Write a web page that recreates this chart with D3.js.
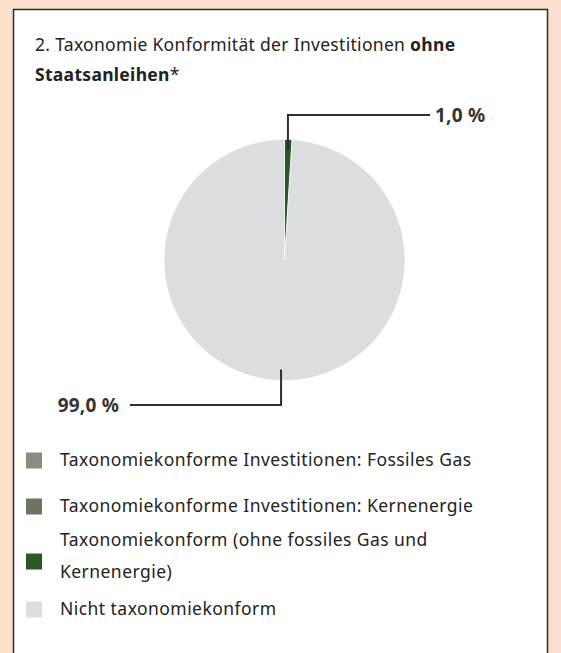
<!DOCTYPE html>
<html><head><meta charset="utf-8">
<script src="https://cdn.jsdelivr.net/npm/d3@7"></script>
<style>html,body{margin:0;padding:0;background:#fbe1cd;}svg{display:block;}</style>
</head><body>
<script>
const categories = ["Taxonomiekonforme Investitionen: Fossiles Gas","Taxonomiekonforme Investitionen: Kernenergie","Taxonomiekonform (ohne fossiles Gas und Kernenergie)","Nicht taxonomiekonform"];
const legendLines = [["Taxonomiekonforme Investitionen: Fossiles Gas"],["Taxonomiekonforme Investitionen: Kernenergie"],["Taxonomiekonform (ohne fossiles Gas und","Kernenergie)"],["Nicht taxonomiekonform"]];
const values = [0, 0, 1.0, 99.0];
const labels = ["", "", "1,0 %", "99,0 %"];
const colors = ["#8b8c7d", "#6b7561", "#2c5726", "#dcdddf"];

const W = 561, H = 653;
const font = "'Noto Sans', Roboto, sans-serif";
const svg = d3.select("body").append("svg").attr("width", W).attr("height", H);
svg.append("rect").attr("x",0).attr("y",0).attr("width",W).attr("height",H).attr("fill","#fbe1cd");
svg.append("rect").attr("x",13.5).attr("y",9.5).attr("width",534).attr("height",H+10)
  .attr("fill","#fff").attr("stroke","#2b2b2b").attr("stroke-width",1.5);

const title = svg.append("text").attr("font-family",font).attr("font-size",17.5)
  .attr("letter-spacing",0.3).attr("fill","#222");
const t1 = title.append("tspan").attr("x",35).attr("y",51);
t1.append("tspan").text("2. Taxonomie Konformität der Investitionen ");
t1.append("tspan").attr("font-weight","bold").text("ohne");
const l2 = title.append("tspan").attr("x",35).attr("y",81);
l2.append("tspan").attr("font-weight","bold").text("Staatsanleihen");
l2.append("tspan").text("*");

const cx = 284.5, cy = 260, r = 120.5;
const pie = d3.pie().sort(null).value(d => d)(values);
const arc = d3.arc().innerRadius(0).outerRadius(r);
const g = svg.append("g").attr("transform",`translate(${cx},${cy})`);
g.selectAll("path").data(pie).join("path")
  .attr("d", arc).attr("fill",(d,i)=>colors[i])
  .attr("stroke","#fff").attr("stroke-width",d=>d.value>0?0.6:0);

// leader lines
pie.forEach((d,i) => {
  if (!d.value) return;
  const a = (d.startAngle + d.endAngle)/2;
  const x0 = Math.sin(a)*r*0.91, y0 = -Math.cos(a)*r*0.91;
  const top = y0 < 0;
  const y1 = top ? -145 : 145;
  const x2 = top ? 430 - cx : 130 - cx;
  g.append("path").attr("d",`M${x0},${y0}V${y1}H${x2}`)
    .attr("fill","none").attr("stroke","#2e2e33").attr("stroke-width",2);
  g.append("text").attr("x", top ? x2+5 : x2-11).attr("y", y1)
    .attr("dy","0.35em").attr("text-anchor", top ? "start" : "end")
    .attr("font-family",font).attr("font-size",19).attr("letter-spacing",0.2)
    .attr("font-weight","bold").attr("fill","#333")
    .text(labels[i]);
});

// legend
const rowsY = [460, 506, 556, 609];
categories.forEach((c,i) => {
  const lines = legendLines[i];
  const y = rowsY[i];
  svg.append("rect").attr("x",26).attr("y",y-7.5+(lines.length>1?5:0)).attr("width",16).attr("height",16).attr("fill",colors[i]);
  const t = svg.append("text").attr("font-family",font).attr("font-size",17.5)
    .attr("letter-spacing",0.45).attr("fill","#222");
  lines.forEach((ln,k) => {
    t.append("tspan").attr("x",60).attr("y", y + (k - (lines.length-1)/2)*32).attr("dy","0.35em").text(ln);
  });
});
</script>
</body></html>
